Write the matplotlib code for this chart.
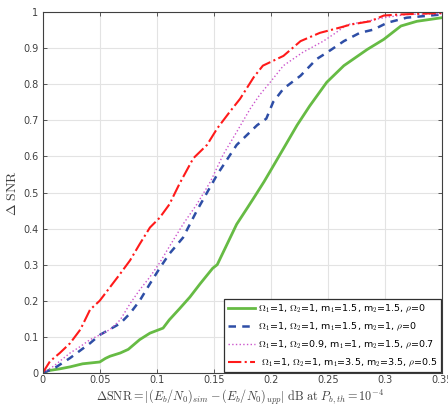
import numpy as np
import matplotlib.pyplot as plt

plt.rcParams['mathtext.fontset'] = 'cm'

# curve 1: Omega1=1, Omega2=1, m1=1.5, m2=1.5, rho=0
x_g = [0, 0.005, 0.015, 0.024, 0.035, 0.05, 0.055, 0.059, 0.068, 0.075, 0.085, 0.094, 0.1055,
       0.111, 0.12, 0.129, 0.138, 0.149, 0.153, 0.17, 0.1795, 0.185, 0.194, 0.1994, 0.2116,
       0.223, 0.234, 0.249, 0.264, 0.2845, 0.299, 0.314, 0.328, 0.35]
y_g = [0, 0.006, 0.011, 0.0165, 0.025, 0.03, 0.04, 0.046, 0.055, 0.065, 0.092, 0.11, 0.124,
       0.147, 0.178, 0.21, 0.247, 0.29, 0.30, 0.412, 0.458, 0.485, 0.53, 0.559, 0.625,
       0.687, 0.74, 0.806, 0.852, 0.897, 0.925, 0.962, 0.975, 0.985]

# curve 2: Omega1=1, Omega2=1, m1=1.5, m2=1, rho=0
x_b = [0, 0.0094, 0.024, 0.0415, 0.05, 0.068, 0.0766, 0.085, 0.094, 0.1025, 0.111, 0.123,
       0.135, 0.153, 0.17, 0.188, 0.196, 0.202, 0.211, 0.226, 0.24, 0.249, 0.264, 0.278,
       0.29, 0.302, 0.319, 0.35]
y_b = [0, 0.011, 0.041, 0.082, 0.105, 0.137, 0.165, 0.2, 0.247, 0.29, 0.33, 0.375,
       0.449, 0.55, 0.632, 0.687, 0.705, 0.751, 0.788, 0.824, 0.87, 0.888, 0.92, 0.943,
       0.952, 0.971, 0.985, 0.994]

# curve 3: Omega1=1, Omega2=0.9, m1=1, m2=1.5, rho=0.7
x_m = [0, 0.0094, 0.024, 0.033, 0.0415, 0.05, 0.059, 0.068, 0.0766, 0.085, 0.094, 0.1025,
       0.111, 0.123, 0.135, 0.147, 0.158, 0.17, 0.182, 0.19, 0.1994, 0.211, 0.228, 0.246,
       0.255, 0.267, 0.284, 0.299, 0.319, 0.35]
y_m = [0, 0.018, 0.055, 0.073, 0.092, 0.105, 0.12, 0.147, 0.192, 0.23, 0.266, 0.305,
       0.35, 0.412, 0.467, 0.53, 0.604, 0.668, 0.733, 0.77, 0.806, 0.852, 0.889, 0.92,
       0.939, 0.966, 0.975, 0.985, 0.994, 0.996]

# curve 4: Omega1=1, Omega2=1, m1=3.5, m2=3.5, rho=0.5
x_r = [0, 0.0064, 0.015, 0.024, 0.033, 0.0415, 0.05, 0.068, 0.0766, 0.085, 0.094, 0.1025,
       0.111, 0.12, 0.132, 0.144, 0.153, 0.164, 0.173, 0.185, 0.193, 0.211, 0.226, 0.243,
       0.261, 0.27, 0.287, 0.299, 0.313, 0.35]
y_r = [0, 0.032, 0.055, 0.082, 0.12, 0.175, 0.2, 0.275, 0.312, 0.357, 0.403, 0.43,
       0.467, 0.525, 0.595, 0.632, 0.678, 0.724, 0.76, 0.82, 0.852, 0.879, 0.92, 0.943,
       0.958, 0.966, 0.975, 0.991, 0.994, 0.998]

labels = [r'$\Omega_1$=1, $\Omega_2$=1, m$_1$=1.5, m$_2$=1.5, $\rho$=0',
          r'$\Omega_1$=1, $\Omega_2$=1, m$_1$=1.5, m$_2$=1, $\rho$=0',
          r'$\Omega_1$=1, $\Omega_2$=0.9, m$_1$=1, m$_2$=1.5, $\rho$=0.7',
          r' $\Omega_1$=1, $\Omega_2$=1, m$_1$=3.5, m$_2$=3.5, $\rho$=0.5']

fig = plt.figure(figsize=(4.48, 4.07), dpi=100)
ax = fig.add_axes([0.0953, 0.084, 0.8913, 0.8858])

ax.plot(x_g, y_g, color='#66bb44', lw=2.0, ls='-', label=labels[0])
ax.plot(x_b, y_b, color='#2e4ea6', lw=1.8, ls=(0, (3, 2.5)), label=labels[1])
ax.plot(x_m, y_m, color='#cc55cc', lw=1.0, ls=':', label=labels[2])
ax.plot(x_r, y_r, color='#ff1a1a', lw=1.5, ls='-.', label=labels[3])

ax.set_xlim(0, 0.35)
ax.set_ylim(0, 1)
ax.set_xticks(np.arange(0, 0.351, 0.05))
ax.set_xticklabels(['0', '0.05', '0.1', '0.15', '0.2', '0.25', '0.3', '0.35'])
ax.set_yticks(np.arange(0, 1.01, 0.1))
ax.set_yticklabels(['0', '0.1', '0.2', '0.3', '0.4', '0.5', '0.6', '0.7', '0.8', '0.9', '1'])
ax.tick_params(direction='in', top=True, right=True, labelsize=7, colors='#404040',
               length=3, width=0.6, pad=3)
ax.tick_params(axis='x', pad=1.5)
ax.grid(True, color='#e3e3e3', lw=0.8)
for s in ax.spines.values():
    s.set_color('#404040')
    s.set_linewidth(0.8)

# x label placed on the figure so it sits tight under the tick labels
fig.text(0.535, 1.0 / 407,
         r'$\Delta\mathrm{SNR} = |(E_b/N_0)_{sim} - (E_b/N_0)_{upp}|\ \mathrm{dB\ at}\ P_{b,th} = 10^{-4}$',
         fontsize=8.8, color='#404040', ha='center', va='bottom')
ax.set_ylabel(r'$\Delta\ \mathrm{SNR}$', fontsize=10, color='#404040', labelpad=3)

leg = ax.legend(loc='lower right', fontsize=6.8, fancybox=False, framealpha=1,
                edgecolor='#303030', borderpad=0.35, handlelength=2.9, handletextpad=0.3,
                labelspacing=0.6, borderaxespad=0.1)
leg.get_frame().set_linewidth(0.9)

fig.savefig('out.png', dpi=100)
